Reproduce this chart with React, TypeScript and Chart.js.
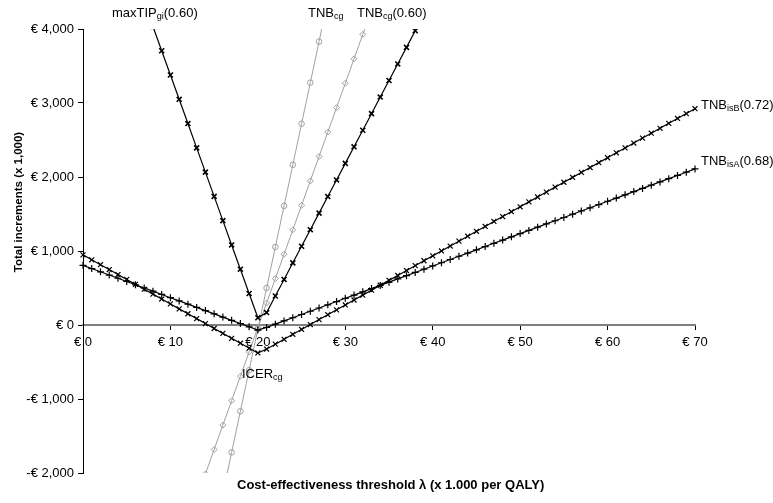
import React, { useEffect, useRef } from 'react';
import { Chart, registerables } from 'chart.js';

Chart.register(...registerables);

// Threshold values λ (x 1.000 per QALY)
const lambdaAll = [
  0, 1, 2, 3, 4, 5, 6, 7, 8, 9, 10, 11, 12, 13, 14, 15, 16, 17, 18, 19, 20,
  21, 22, 23, 24, 25, 26, 27, 28, 29, 30, 31, 32, 33, 34, 35, 36, 37, 38, 39, 40,
  41, 42, 43, 44, 45, 46, 47, 48, 49, 50, 51, 52, 53, 54, 55, 56, 57, 58, 59, 60,
  61, 62, 63, 64, 65, 66, 67, 68, 69, 70,
];

// TNB_isB(0.72)
const tnbIsB = [
  948, 881, 815, 749, 682, 616, 550, 484, 417, 351, 285, 218, 152, 86, 19, -47, -113, -180, -246, -312, -378,
  -325, -259, -193, -126, -60, 6, 73, 139, 205, 271, 338, 404, 470, 537, 603, 669, 736, 802, 868, 934,
  1001, 1067, 1133, 1200, 1266, 1332, 1399, 1465, 1531, 1597, 1664, 1730, 1796, 1863, 1929, 1995, 2062, 2128, 2194, 2260,
  2327, 2393, 2459, 2526, 2592, 2658, 2725, 2791, 2857, 2923,
];

// TNB_isA(0.68)
const tnbIsA = [
  806, 763, 719, 675, 632, 588, 544, 500, 457, 413, 369, 326, 282, 238, 195, 151, 107, 63, 20, -24, -68,
  -33, 11, 55, 98, 142, 186, 230, 273, 317, 361, 404, 448, 492, 535, 579, 623, 667, 710, 754, 798,
  841, 885, 929, 972, 1016, 1060, 1104, 1147, 1191, 1235, 1278, 1322, 1366, 1409, 1453, 1497, 1541, 1584, 1628, 1672,
  1715, 1759, 1803, 1846, 1890, 1934, 1978, 2021, 2065, 2109,
];

// maxTIP_gi(0.60)
const tipLambda = [
  8, 9, 10, 11, 12, 13, 14, 15, 16, 17, 18, 19, 20, 21, 22, 23, 24, 25, 26, 27,
  28, 29, 30, 31, 32, 33, 34, 35, 36, 37, 38, 39,
];
const maxTipGi60 = [
  4034, 3706, 3378, 3050, 2722, 2394, 2066, 1738, 1410, 1082, 754, 426, 98, 168, 392, 616, 840, 1064, 1288, 1512,
  1736, 1960, 2184, 2408, 2632, 2856, 3080, 3304, 3528, 3752, 3976, 4200,
];

// TNB_cg
const cgLambda = [16, 17, 18, 19, 20, 21, 22, 23, 24, 25, 26, 27, 28];
const tnbCg = [-2276, -1721, -1166, -611, -56, 500, 1055, 1610, 2165, 2720, 3275, 3830, 4385];

// TNB_cg(0.60)
const cg60Lambda = [14, 15, 16, 17, 18, 19, 20, 21, 22, 23, 24, 25, 26, 27, 28, 29, 30, 31, 32, 33];
const tnbCg60 = [
  -2013, -1683, -1353, -1023, -693, -363, -33, 297, 627, 957, 1287, 1617, 1947, 2277, 2607, 2937, 3267, 3597, 3927, 4257,
];

// Axis ranges
const xRange = [0, 70];
const xStep = 10;
const yRange = [-2000, 4000];
const yStep = 1000;

const FONT = "'Liberation Sans', Arial, sans-serif";
const GREY = '#a0a0a0';

type Seg = { t: string; sub?: boolean };

const pairs = (xs: number[], ys: number[]) => xs.map((x, i) => ({ x, y: ys[i] }));

const euro = (v: number) => {
  const abs = Math.abs(v)
    .toString()
    .replace(/\B(?=(\d{3})+(?!\d))/g, ',');
  return (v < 0 ? '-' : '') + '€ ' + abs;
};

function drawRich(ctx: CanvasRenderingContext2D, segs: Seg[], x: number, y: number) {
  let cx = x;
  for (const s of segs) {
    ctx.font = s.sub ? `9px ${FONT}` : `13px ${FONT}`;
    ctx.fillText(s.t, cx, s.sub ? y + 2 : y);
    cx += ctx.measureText(s.t).width;
  }
}

const labelsPlugin = {
  id: 'seriesLabels',
  afterDraw(chart: Chart) {
    const ctx = chart.ctx;
    ctx.save();
    ctx.fillStyle = '#000';
    ctx.textBaseline = 'alphabetic';
    ctx.textAlign = 'left';
    drawRich(ctx, [{ t: 'maxTIP' }, { t: 'gi', sub: true }, { t: '(0.60)' }], 112, 17);
    drawRich(ctx, [{ t: 'TNB' }, { t: 'cg', sub: true }], 308, 17);
    drawRich(ctx, [{ t: 'TNB' }, { t: 'cg', sub: true }, { t: '(0.60)' }], 357, 17);
    drawRich(ctx, [{ t: 'TNB' }, { t: 'isB', sub: true }, { t: '(0.72)' }], 701, 109);
    drawRich(ctx, [{ t: 'TNB' }, { t: 'isA', sub: true }, { t: '(0.68)' }], 701, 165);
    drawRich(ctx, [{ t: 'ICER' }, { t: 'cg', sub: true }], 242, 378);

    // axis titles
    ctx.font = `bold 13px ${FONT}`;
    ctx.fillText('Cost-effectiveness threshold λ (x 1.000 per QALY)', 237, 489);
    ctx.font = `bold 11.5px ${FONT}`;
    ctx.translate(22, 202);
    ctx.rotate(-Math.PI / 2);
    ctx.textAlign = 'center';
    ctx.fillText('Total increments (x 1,000)', 0, 0);
    ctx.restore();
  },
};

export default function App() {
  const canvasRef = useRef<HTMLCanvasElement | null>(null);

  useEffect(() => {
    const canvas = canvasRef.current;
    if (!canvas) return;
    const clip = { left: false, right: false, top: 0, bottom: 0 } as any;
    const chart = new Chart(canvas, {
      type: 'scatter',
      data: {
        datasets: [
          {
            label: 'TNBisB(0.72)',
            data: pairs(lambdaAll, tnbIsB),
            showLine: true,
            borderColor: '#000',
            borderWidth: 1.2,
            pointStyle: 'crossRot',
            pointRadius: 3.5,
            pointBorderColor: '#000',
            pointBorderWidth: 1.2,
            clip,
          },
          {
            label: 'TNBisA(0.68)',
            data: pairs(lambdaAll, tnbIsA),
            showLine: true,
            borderColor: '#000',
            borderWidth: 1.2,
            pointStyle: 'cross',
            pointRadius: 3.5,
            pointBorderColor: '#000',
            pointBorderWidth: 1.2,
            clip,
          },
          {
            label: 'maxTIPgi(0.60)',
            data: pairs(tipLambda, maxTipGi60),
            showLine: true,
            borderColor: '#000',
            borderWidth: 1.2,
            pointStyle: 'crossRot',
            pointRadius: 3.5,
            pointBorderColor: '#000',
            pointBorderWidth: 1.6,
            clip,
          },
          {
            label: 'TNBcg',
            data: pairs(cgLambda, tnbCg),
            showLine: true,
            borderColor: GREY,
            borderWidth: 1,
            pointStyle: 'circle',
            pointRadius: 2.8,
            pointBackgroundColor: 'rgba(0,0,0,0)',
            pointBorderColor: GREY,
            pointBorderWidth: 1,
            clip,
          },
          {
            label: 'TNBcg(0.60)',
            data: pairs(cg60Lambda, tnbCg60),
            showLine: true,
            borderColor: GREY,
            borderWidth: 1,
            pointStyle: 'rectRot',
            pointRadius: 3,
            pointBackgroundColor: 'rgba(0,0,0,0)',
            pointBorderColor: GREY,
            pointBorderWidth: 1,
            clip,
          },
        ],
      },
      options: {
        animation: false,
        responsive: false,
        devicePixelRatio: 1,
        layout: { padding: { left: 0, top: 29, right: 78, bottom: 30 } },
        plugins: { legend: { display: false }, tooltip: { enabled: false } },
        elements: { line: { tension: 0 } },
        scales: {
          x: {
            type: 'linear',
            position: { y: 0 } as any,
            min: xRange[0],
            max: xRange[1],
            border: { display: true, color: '#808080', width: 2 },
            grid: {
              display: true,
              drawOnChartArea: false,
              drawTicks: true,
              tickLength: 4,
              tickColor: '#000',
            },
            ticks: {
              stepSize: xStep,
              padding: 6,
              color: '#000',
              font: { family: FONT, size: 13 },
              callback: (v: any) => euro(Number(v)),
            },
          },
          y: {
            type: 'linear',
            position: 'left',
            min: yRange[0],
            max: yRange[1],
            afterFit: (scale: any) => {
              scale.width = 83;
            },
            border: { display: true, color: '#000', width: 1 },
            grid: {
              display: true,
              drawOnChartArea: false,
              drawTicks: true,
              tickLength: 5,
              tickColor: '#000',
            },
            ticks: {
              stepSize: yStep,
              padding: 4,
              color: '#000',
              font: { family: FONT, size: 13 },
              callback: (v: any) => euro(Number(v)),
            },
          },
        },
      },
      plugins: [labelsPlugin],
    });
    return () => chart.destroy();
  }, []);

  return (
    <div style={{ position: 'fixed', left: 0, top: 0, width: 773, height: 503, background: '#fff' }}>
      <canvas ref={canvasRef} width={773} height={503} />
    </div>
  );
}
